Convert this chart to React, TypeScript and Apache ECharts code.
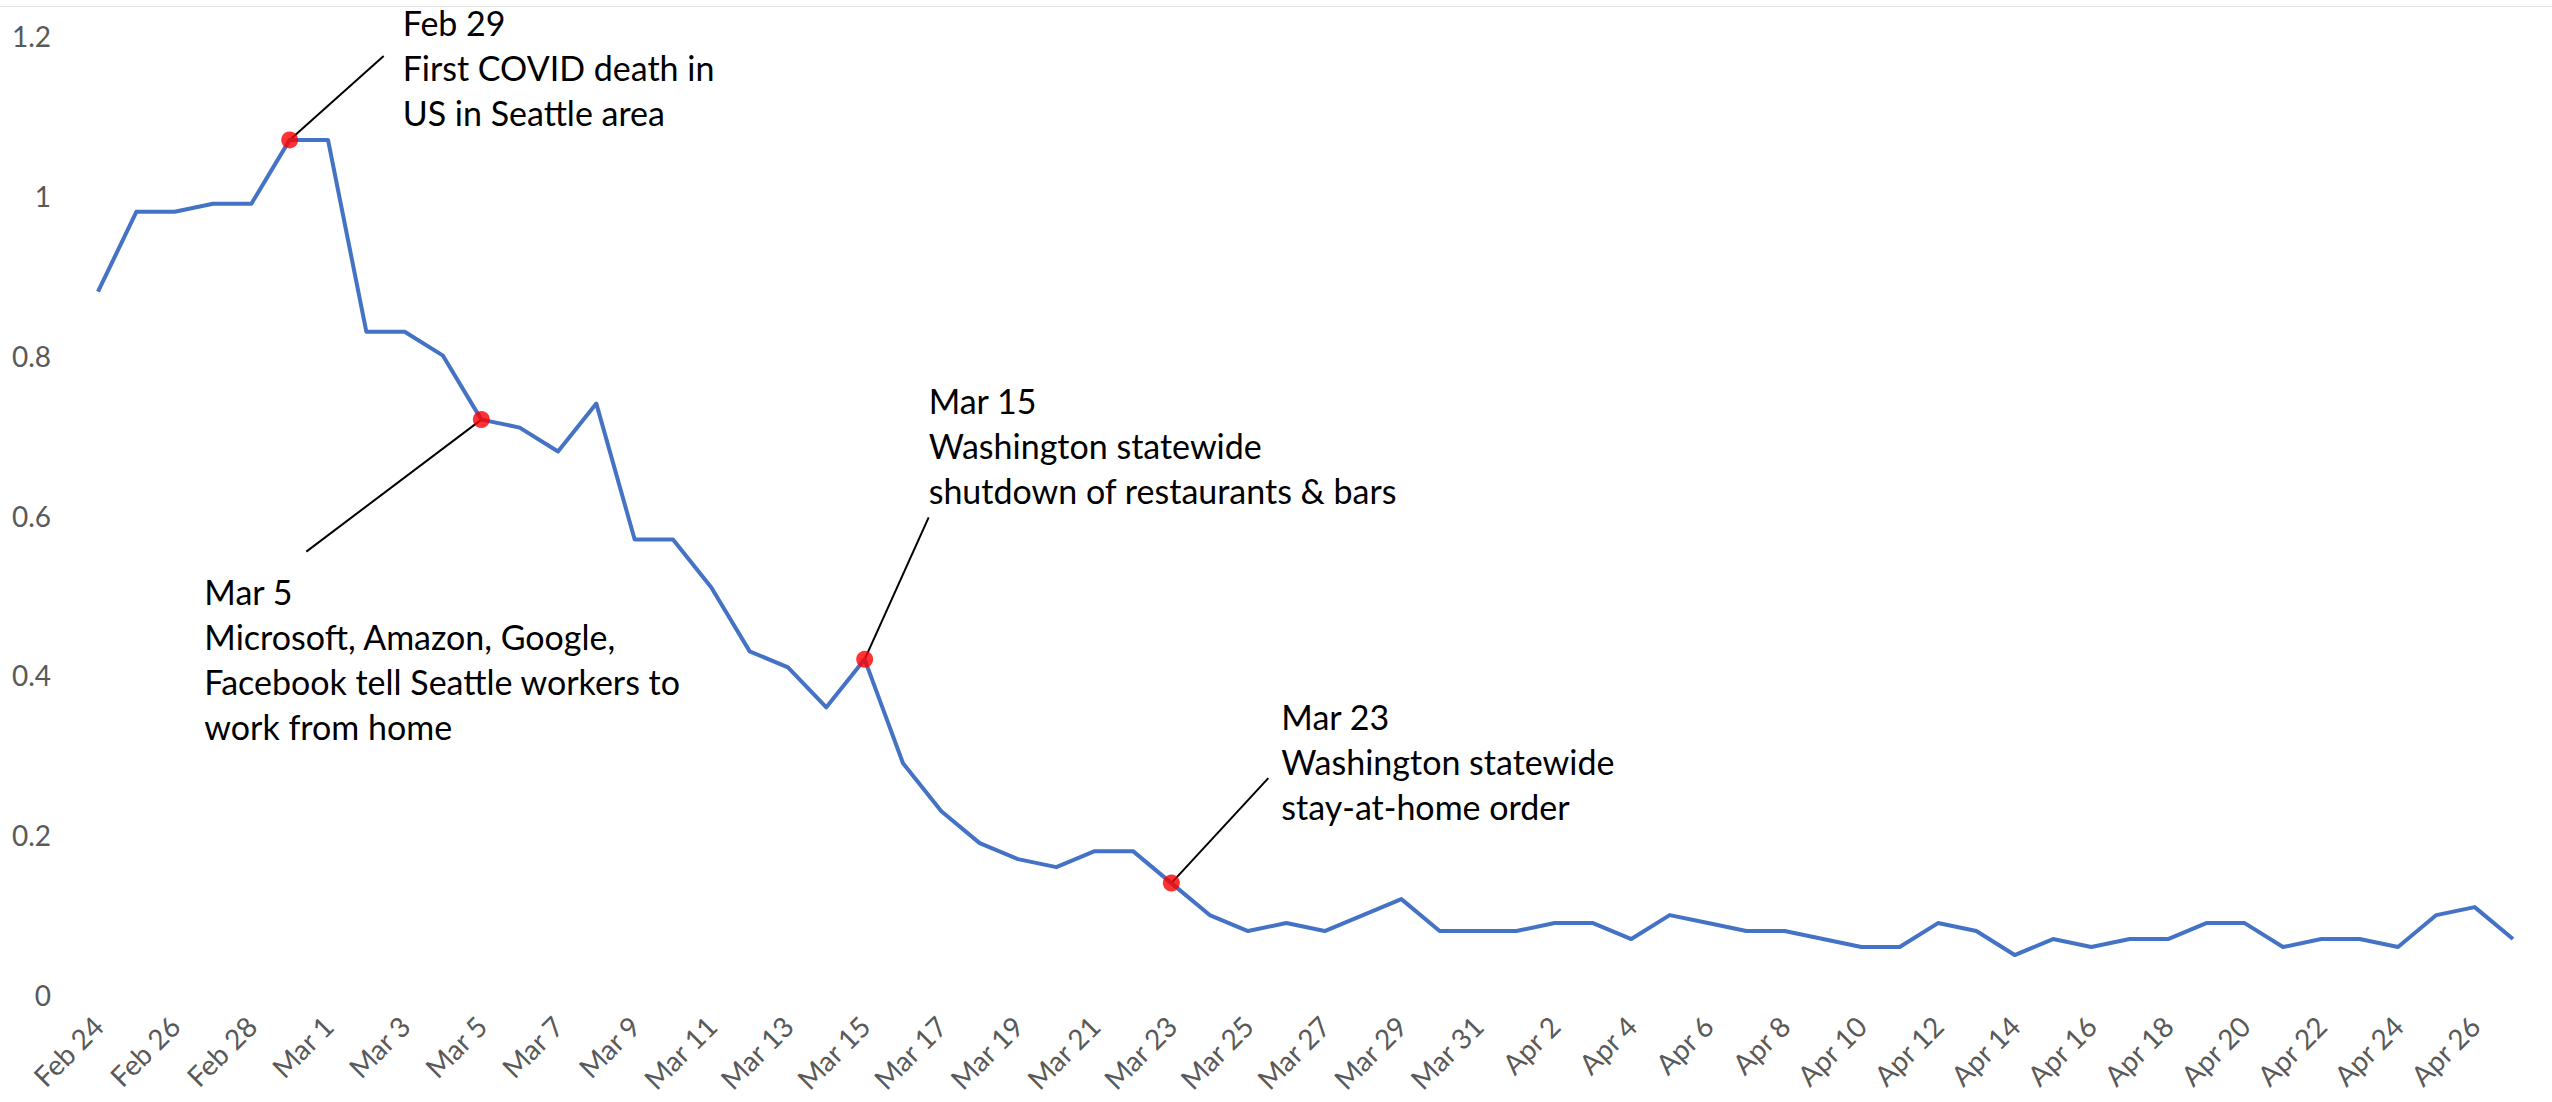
import React, { useEffect, useRef } from "react";
import * as echarts from "echarts";

const categories = [
  "Feb 24", "Feb 25", "Feb 26", "Feb 27", "Feb 28", "Feb 29",
  "Mar 1", "Mar 2", "Mar 3", "Mar 4", "Mar 5", "Mar 6", "Mar 7", "Mar 8", "Mar 9", "Mar 10",
  "Mar 11", "Mar 12", "Mar 13", "Mar 14", "Mar 15", "Mar 16", "Mar 17", "Mar 18", "Mar 19", "Mar 20",
  "Mar 21", "Mar 22", "Mar 23", "Mar 24", "Mar 25", "Mar 26", "Mar 27", "Mar 28", "Mar 29", "Mar 30", "Mar 31",
  "Apr 1", "Apr 2", "Apr 3", "Apr 4", "Apr 5", "Apr 6", "Apr 7", "Apr 8", "Apr 9", "Apr 10",
  "Apr 11", "Apr 12", "Apr 13", "Apr 14", "Apr 15", "Apr 16", "Apr 17", "Apr 18", "Apr 19", "Apr 20",
  "Apr 21", "Apr 22", "Apr 23", "Apr 24", "Apr 25", "Apr 26", "Apr 27",
];

const values = [
  0.88, 0.98, 0.98, 0.99, 0.99, 1.07,
  1.07, 0.83, 0.83, 0.80, 0.72, 0.71, 0.68, 0.74, 0.57, 0.57,
  0.51, 0.43, 0.41, 0.36, 0.42, 0.29, 0.23, 0.19, 0.17, 0.16,
  0.18, 0.18, 0.14, 0.10, 0.08, 0.09, 0.08, 0.10, 0.12, 0.08, 0.08,
  0.08, 0.09, 0.09, 0.07, 0.10, 0.09, 0.08, 0.08, 0.07, 0.06,
  0.06, 0.09, 0.08, 0.05, 0.07, 0.06, 0.07, 0.07, 0.09, 0.09,
  0.06, 0.07, 0.07, 0.06, 0.10, 0.11, 0.07,
];

const yTicks = [0, 0.2, 0.4, 0.6, 0.8, 1, 1.2];

const eventDates = ["Feb 29", "Mar 5", "Mar 15", "Mar 23"];
const eventTexts = [
  "Feb 29\nFirst COVID death in\nUS in Seattle area",
  "Mar 5\nMicrosoft, Amazon, Google,\nFacebook tell Seattle workers to\nwork from home",
  "Mar 15\nWashington statewide\nshutdown of restaurants & bars",
  "Mar 23\nWashington statewide\nstay-at-home order",
];

// layout offsets (pixels) relative to each event's dot
const leaderOffsets = [
  [94, -84],
  [-175, 132],
  [64, -142],
  [97, -105],
];
const textOffsets = [
  [113, -140],
  [-277, 149],
  [64, -281],
  [110, -189],
];

const LABEL_FONT = "Lato, 'Noto Sans', sans-serif";

export default function App() {
  const ref = useRef<HTMLDivElement>(null);

  useEffect(() => {
    if (!ref.current) return;
    const chart = echarts.init(ref.current, undefined, { renderer: "svg" });
    const eventIdx = eventDates.map((d) => categories.indexOf(d));
    chart.setOption({
      animation: false,
      backgroundColor: "#ffffff",
      grid: { left: 98, right: 39, top: 36, bottom: 107, containLabel: false },
      xAxis: {
        type: "category",
        data: categories,
        boundaryGap: false,
        axisLine: { show: false },
        axisTick: { show: false },
        splitLine: { show: false },
        axisLabel: {
          interval: 1,
          rotate: 45,
          margin: 26,
          color: "#595959",
          fontSize: 28,
          fontFamily: LABEL_FONT,
        },
      },
      yAxis: {
        type: "value",
        min: yTicks[0],
        max: yTicks[yTicks.length - 1],
        interval: 0.2,
        axisLine: { show: false },
        axisTick: { show: false },
        splitLine: { show: false },
        axisLabel: {
          margin: 47,
          color: "#595959",
          fontSize: 28,
          fontFamily: LABEL_FONT,
        },
      },
      series: [
        {
          type: "line",
          data: values,
          showSymbol: false,
          symbol: "none",
          lineStyle: { color: "#4472C4", width: 4, join: "round" },
          z: 2,
        },
        {
          type: "scatter",
          data: eventIdx.map((i) => [i, values[i]]),
          symbol: "circle",
          symbolSize: 17,
          itemStyle: { color: "#FF0000" },
          z: 5,
        },
      ],
    });

    const graphics: any[] = [
      {
        type: "line",
        shape: { x1: 0, y1: 6.5, x2: 2552, y2: 6.5 },
        style: { stroke: "#e3e3e3", lineWidth: 1 },
        silent: true,
      },
    ];
    eventIdx.forEach((i, k) => {
      const p = chart.convertToPixel({ gridIndex: 0 }, [i, values[i]]) as number[];
      graphics.push({
        type: "line",
        shape: {
          x1: p[0],
          y1: p[1],
          x2: p[0] + leaderOffsets[k][0],
          y2: p[1] + leaderOffsets[k][1],
        },
        style: { stroke: "#000000", lineWidth: 2 },
        z: 1,
        silent: true,
      });
      graphics.push({
        type: "text",
        x: p[0] + textOffsets[k][0],
        y: p[1] + textOffsets[k][1],
        style: {
          text: eventTexts[k],
          fill: "#000000",
          fontSize: 34,
          fontFamily: LABEL_FONT,
          lineHeight: 45,
          align: "left",
          verticalAlign: "top",
        },
        z: 10,
        silent: true,
      });
    });
    chart.setOption({ graphic: graphics });

    return () => chart.dispose();
  }, []);

  return (
    <div
      ref={ref}
      style={{ position: "fixed", left: 0, top: 0, width: 2552, height: 1102, background: "#fff" }}
    />
  );
}
